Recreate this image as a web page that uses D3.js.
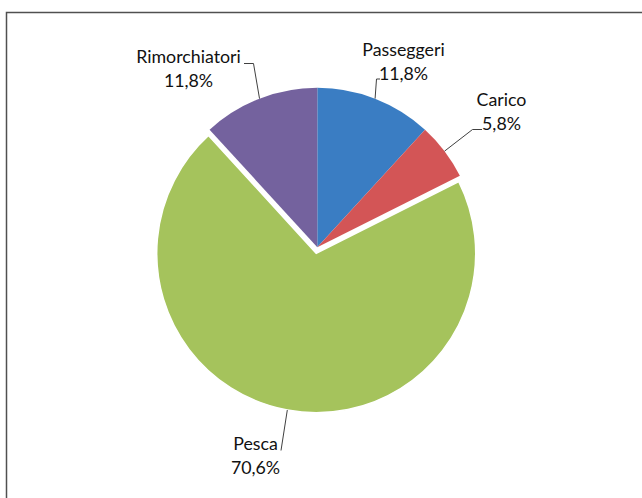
<!DOCTYPE html>
<html>
<head>
<meta charset="utf-8">
<script src="https://cdn.jsdelivr.net/npm/d3@7"></script>
<style>
  html, body { margin: 0; padding: 0; background: #fff; }
  svg { display: block; }
  text { font-family: Lato, "Open Sans", sans-serif; fill: #111; }
</style>
</head>
<body>
<svg id="chart" width="642" height="498"></svg>
<script>
// Ripartizione per tipologia
const categories = ["Passeggeri", "Carico", "Pesca", "Rimorchiatori"];
const values = [11.8, 5.8, 70.6, 11.8];
const valueLabels = ["11,8%", "5,8%", "70,6%", "11,8%"];
const colors = ["#3a7dc3", "#d35556", "#a5c35c", "#74629e"];
const exploded = [false, false, true, false];

// label placement: text centre, first baseline, leader elbow and stub end
const labelCx = [403.5, 501.5, 255.5, 188.5];
const labelBase = [56, 106, 450, 63];
const elbow = [[376.5, 79], [472.5, 129.5], [281, 450.5], [253.5, 63.5]];
const stubEnd = [[380, 79], [482, 129.5], null, [244, 63.5]];

const svg = d3.select("#chart");

// outer frame
svg.append("rect")
  .attr("x", 6.5).attr("y", 12.5)
  .attr("width", 700).attr("height", 600)
  .attr("fill", "none").attr("stroke", "#505050").attr("stroke-width", 1.5);

const cx = 317.3, cy = 247.3, R = 159.5, explode = 6;

const pie = d3.pie().sort(null).value(d => d.v);
const data = categories.map((c, i) => ({ c, v: values[i], i }));
const arcs = pie(data);
const arc = d3.arc().innerRadius(0).outerRadius(R);

const g = svg.append("g").attr("transform", `translate(${cx},${cy})`);

function offsetOf(a) {
  if (!exploded[a.data.i]) return [0, 0];
  const m = (a.startAngle + a.endAngle) / 2;
  return [Math.sin(m) * explode, -Math.cos(m) * explode];
}

g.selectAll("path.slice")
  .data(arcs)
  .join("path")
  .attr("class", "slice")
  .attr("d", arc)
  .attr("fill", d => colors[d.data.i])
  .attr("stroke", d => exploded[d.data.i] ? "#fff" : "none")
  .attr("stroke-width", d => exploded[d.data.i] ? 1.5 : 0)
  .attr("transform", d => { const o = offsetOf(d); return `translate(${o[0]},${o[1]})`; });

// leader lines from slice mid-arc to label
arcs.forEach(a => {
  const i = a.data.i;
  const o = offsetOf(a);
  const m = (a.startAngle + a.endAngle) / 2;
  const p0 = [cx + o[0] + Math.sin(m) * R, cy + o[1] - Math.cos(m) * R];
  const pts = [p0, elbow[i]];
  if (stubEnd[i]) pts.push(stubEnd[i]);
  svg.append("path")
    .attr("d", d3.line()(pts))
    .attr("fill", "none")
    .attr("stroke", "#404040")
    .attr("stroke-width", 1);
});

// category and percentage labels
arcs.forEach(a => {
  const i = a.data.i;
  const t = svg.append("text")
    .attr("text-anchor", "middle")
    .attr("font-size", 17.8);
  t.append("tspan").attr("x", labelCx[i]).attr("y", labelBase[i]).text(categories[i]);
  t.append("tspan").attr("x", labelCx[i]).attr("y", labelBase[i] + 24).text(valueLabels[i]);
});
</script>
</body>
</html>
